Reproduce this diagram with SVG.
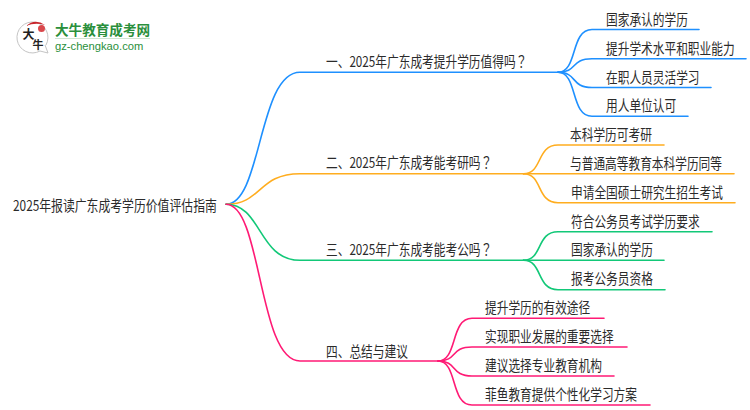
<svg xmlns="http://www.w3.org/2000/svg" width="750" height="410" viewBox="0 0 750 410">
<style>
text{font-family:"Noto Sans CJK SC","Liberation Sans",sans-serif;font-size:15px;fill:#2b2b2b}
.t{transform:scale(.78,1)}
.r{transform:scale(.79,1)}
.q{font-family:"Noto Sans CJK TC","Liberation Sans",sans-serif}
.c{fill:none;stroke-width:1.6;stroke-linecap:round}
.b{stroke:#1e90ff}.o{stroke:#ffad1f}.g{stroke:#12c878}.p{stroke:#ff1a75}
</style>
<rect width="750" height="410" fill="#fff"/>
<g id="logo">
<path d="M40 51a15.500 15.500 0 1 1 6-6" fill="#fff" stroke="#c4c4c4" stroke-width="1"/>
<path d="M40 51l8 2-3-8" fill="#fff" stroke="#c4c4c4" stroke-width="1"/>
<path d="M26 26q9-8 19-1q-10-3-19 1z" fill="#c8262c"/>
<circle cx="41.500" cy="28.500" r="3.500" fill="#d9484c"/>
<text x="22.500" y="38.500" style="font-size:12px;font-weight:700;fill:#222">大</text>
<text x="32.500" y="49" style="font-size:11px;font-weight:700;fill:#222">牛</text>
<text x="55" y="35" style="font-size:13.600px;font-weight:700;fill:#2a8f3c">大牛教育成考网</text>
<rect x="55" y="38" width="95" height="1" fill="#cfe5d2"/>
<text x="55" y="49.500" style="font-family:'Liberation Sans',sans-serif;font-size:11.200px;fill:#2a8f3c">gz-chengkao.com</text>
</g>
<g id="connectors">
<path class="c b" d="M226 204.300C262 204.300 258 72.300 300 72.300H558"/>
<path class="c o" d="M226 204.300C262 204.300 258 173.700 300 173.700H523.500"/>
<path class="c g" d="M226 204.300C262 204.300 258 260.300 300 260.300H523.500"/>
<path class="c p" d="M226 204.300C262 204.300 258 361 300 361H438"/>
<path class="c b" d="M558 72.300C578 72.300 570 29.500 592 29.500H699"/>
<path class="c b" d="M558 72.300C578 72.300 570 58.700 592 58.700H746"/>
<path class="c b" d="M558 72.300C578 72.300 570 87.500 592 87.500H711"/>
<path class="c b" d="M558 72.300C578 72.300 570 116.300 592 116.300H688"/>
<path class="c o" d="M523.500 173.700C543 173.700 536 145 558 145H664"/>
<path class="c o" d="M523.500 173.700H734"/>
<path class="c o" d="M523.500 173.700C543 173.700 536 202.700 558 202.700H735"/>
<path class="c g" d="M523.500 260.300C543 260.300 536 231.700 558 231.700H712"/>
<path class="c g" d="M523.500 260.300H664"/>
<path class="c g" d="M523.500 260.300C543 260.300 536 289.700 558 289.700H665"/>
<path class="c p" d="M438 361C458 361 450 318.300 472 318.300H604"/>
<path class="c p" d="M438 361C458 361 450 347 472 347H627"/>
<path class="c p" d="M438 361C458 361 450 376 472 376H614"/>
<path class="c p" d="M438 361C458 361 450 405 472 405H650"/>
</g>
<g id="root" transform="translate(13 211)"><text class="r">2025年报读广东成考学历价值评估指南</text></g>
<g id="n1" transform="translate(326 67)"><text class="t">一、2025年广东成考提升学历值得吗<tspan class="q">？</tspan></text></g>
<g id="n2" transform="translate(326 168)"><text class="t">二、2025年广东成考能考研吗<tspan class="q">？</tspan></text></g>
<g id="n3" transform="translate(326 255)"><text class="t">三、2025年广东成考能考公吗<tspan class="q">？</tspan></text></g>
<g id="n4" transform="translate(326 356.500)"><text class="t">四、总结与建议</text></g>
<g id="n11" transform="translate(606 24.500)"><text class="t">国家承认的学历</text></g>
<g id="n12" transform="translate(606 53.500)"><text class="t">提升学术水平和职业能力</text></g>
<g id="n13" transform="translate(606 82.500)"><text class="t">在职人员灵活学习</text></g>
<g id="n14" transform="translate(606 111)"><text class="t">用人单位认可</text></g>
<g id="n21" transform="translate(570 139.500)"><text class="t">本科学历可考研</text></g>
<g id="n22" transform="translate(570 168.500)"><text class="t">与普通高等教育本科学历同等</text></g>
<g id="n23" transform="translate(571 197.500)"><text class="t">申请全国硕士研究生招生考试</text></g>
<g id="n31" transform="translate(571 226.500)"><text class="t">符合公务员考试学历要求</text></g>
<g id="n32" transform="translate(571 255)"><text class="t">国家承认的学历</text></g>
<g id="n33" transform="translate(571 284)"><text class="t">报考公务员资格</text></g>
<g id="n41" transform="translate(485 312.500)"><text class="t">提升学历的有效途径</text></g>
<g id="n42" transform="translate(485 341.500)"><text class="t">实现职业发展的重要选择</text></g>
<g id="n43" transform="translate(485 370.500)"><text class="t">建议选择专业教育机构</text></g>
<g id="n44" transform="translate(485 399.500)"><text class="t">菲鱼教育提供个性化学习方案</text></g>
</svg>
